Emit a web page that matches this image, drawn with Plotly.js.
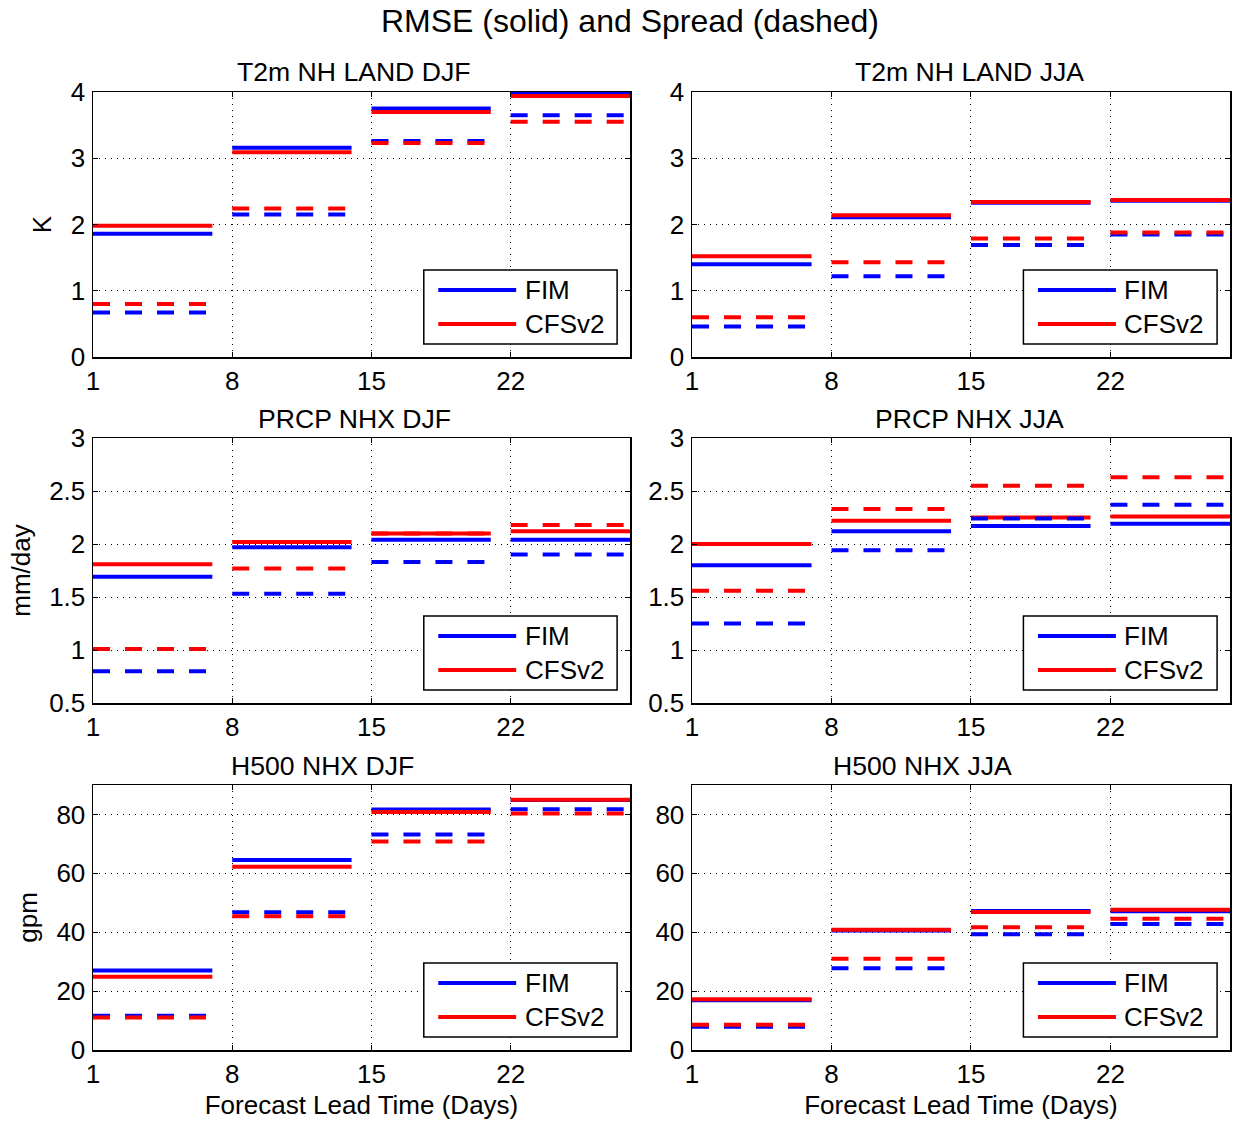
<!DOCTYPE html>
<html>
<head>
<meta charset="utf-8">
<script src="https://cdn.plot.ly/plotly-3.0.1.min.js"></script>
<style>html,body{margin:0;padding:0;background:#fff;}#chart{width:1238px;height:1124px;}</style>
</head>
<body>
<div id="chart"></div>
<script>
// ---- data ----
const weekStart = [1, 8, 15, 22];
const weekEnd = [7, 14, 21, 28];
const xTicks = [1, 8, 15, 22];
const modelNames = ["FIM", "CFSv2"];

const panelTitles = ["T2m NH LAND DJF", "T2m NH LAND JJA", "PRCP NHX DJF", "PRCP NHX JJA", "H500 NHX DJF", "H500 NHX JJA"];
const yLabels = ["K", "", "mm/day", "", "gpm", ""];
const xLabels = ["", "", "", "", "Forecast Lead Time (Days)", "Forecast Lead Time (Days)"];

// T2m NH LAND DJF
const t2mDjfFimRmse = [1.86, 3.16, 3.75, 3.99];
const t2mDjfCfsRmse = [1.98, 3.09, 3.70, 3.94];
const t2mDjfFimSpread = [0.67, 2.15, 3.26, 3.65];
const t2mDjfCfsSpread = [0.80, 2.24, 3.23, 3.55];
// T2m NH LAND JJA
const t2mJjaFimRmse = [1.40, 2.11, 2.33, 2.36];
const t2mJjaCfsRmse = [1.52, 2.14, 2.34, 2.37];
const t2mJjaFimSpread = [0.46, 1.22, 1.69, 1.85];
const t2mJjaCfsSpread = [0.60, 1.43, 1.79, 1.88];
// PRCP NHX DJF
const prcpDjfFimRmse = [1.69, 1.97, 2.04, 2.04];
const prcpDjfCfsRmse = [1.81, 2.02, 2.10, 2.12];
const prcpDjfFimSpread = [0.80, 1.53, 1.83, 1.90];
const prcpDjfCfsSpread = [1.01, 1.77, 2.10, 2.18];
// PRCP NHX JJA
const prcpJjaFimRmse = [1.80, 2.12, 2.17, 2.19];
const prcpJjaCfsRmse = [2.00, 2.22, 2.25, 2.26];
const prcpJjaFimSpread = [1.25, 1.94, 2.24, 2.37];
const prcpJjaCfsSpread = [1.56, 2.33, 2.55, 2.63];
// H500 NHX DJF
const h500DjfFimRmse = [27.0, 64.5, 81.7, 84.9];
const h500DjfCfsRmse = [24.9, 62.2, 80.8, 85.0];
const h500DjfFimSpread = [11.6, 46.8, 73.2, 81.8];
const h500DjfCfsSpread = [11.0, 45.4, 70.8, 80.3];
// H500 NHX JJA
const h500JjaFimRmse = [16.9, 40.6, 47.2, 47.1];
const h500JjaCfsRmse = [17.2, 40.8, 46.9, 47.6];
const h500JjaFimSpread = [7.9, 27.8, 39.3, 42.8];
const h500JjaCfsSpread = [8.6, 31.0, 41.7, 44.6];

const yRanges = [[0, 4], [0, 4], [0.5, 3], [0.5, 3], [0, 90], [0, 90]];
const yTickStep = [1, 1, 0.5, 0.5, 20, 20];

const panels = [
  [t2mDjfFimRmse, t2mDjfCfsRmse, t2mDjfFimSpread, t2mDjfCfsSpread],
  [t2mJjaFimRmse, t2mJjaCfsRmse, t2mJjaFimSpread, t2mJjaCfsSpread],
  [prcpDjfFimRmse, prcpDjfCfsRmse, prcpDjfFimSpread, prcpDjfCfsSpread],
  [prcpJjaFimRmse, prcpJjaCfsRmse, prcpJjaFimSpread, prcpJjaCfsSpread],
  [h500DjfFimRmse, h500DjfCfsRmse, h500DjfFimSpread, h500DjfCfsSpread],
  [h500JjaFimRmse, h500JjaCfsRmse, h500JjaFimSpread, h500JjaCfsSpread]
];

// ---- styling / layout ----
const BLUE = "#0000ff", RED = "#ff0000";
const FONT = "Liberation Sans, Arial, Helvetica, sans-serif";
const seriesStyle = [
  {color: BLUE, dash: "solid", name: "FIM"},
  {color: RED, dash: "solid", name: "CFSv2"},
  {color: BLUE, dash: "17px,15px", name: "FIM spread"},
  {color: RED, dash: "17px,15px", name: "CFSv2 spread"}
];

function segments(vals) {
  const x = [], y = [];
  vals.forEach((v, i) => {
    x.push(weekStart[i], weekEnd[i], null);
    y.push(v, v, null);
  });
  return {x, y};
}

const W = 1238, H = 1124;
const colX = [[93, 630], [692, 1230]];
const rowY = [[92, 357], [438, 703], [785, 1050]];
const titlePos = [[353, 72], [969, 72], [354, 419], [969, 419], [322, 766], [922, 766]];

const traces = [];
const layout = {
  width: W, height: H,
  margin: {l: 0, r: 0, t: 0, b: 0},
  paper_bgcolor: "#fff", plot_bgcolor: "#fff",
  font: {family: FONT, size: 26, color: "#000"},
  showlegend: false,
  title: {text: "RMSE (solid) and Spread (dashed)", font: {family: FONT, size: 32, color: "#000"},
          x: 630 / W, xanchor: "center", xref: "paper", y: 1 - 21 / H, yanchor: "middle", yref: "container"},
  annotations: [], shapes: []
};

panels.forEach((series, p) => {
  const idx = p + 1;
  const xa = "x" + (idx === 1 ? "" : idx), ya = "y" + (idx === 1 ? "" : idx);
  const col = p % 2, row = Math.floor(p / 2);
  series.forEach((vals, s) => {
    const seg = segments(vals);
    traces.push({
      type: "scatter", mode: "lines", x: seg.x, y: seg.y, xaxis: xa, yaxis: ya,
      name: seriesStyle[s].name, connectgaps: false, hoverinfo: "skip",
      line: {color: seriesStyle[s].color, width: 4, dash: seriesStyle[s].dash}
    });
  });
  const axCommon = {
    ticks: "inside", ticklen: 5, tickwidth: 1, tickcolor: "#000",
    mirror: "allticks", showline: true, linecolor: "#000", linewidth: 1.5,
    showgrid: true, gridcolor: "#000", gridwidth: 1, griddash: "1px,5px",
    zeroline: false, tickfont: {family: FONT, size: 26, color: "#000"},
    fixedrange: true
  };
  layout["xaxis" + (idx === 1 ? "" : idx)] = Object.assign({}, axCommon, {
    domain: [colX[col][0] / W, colX[col][1] / W], anchor: ya,
    range: [1, 28], tickmode: "array", tickvals: xTicks, ticktext: xTicks.map(String),
    ticklabelstandoff: 0,
    title: {text: xLabels[p], font: {family: FONT, size: 26, color: "#000"}, standoff: 8}
  });
  layout["yaxis" + (idx === 1 ? "" : idx)] = Object.assign({}, axCommon, {
    domain: [1 - rowY[row][1] / H, 1 - rowY[row][0] / H], anchor: xa,
    range: yRanges[p], tickmode: "linear", tick0: yRanges[p][0], dtick: yTickStep[p],
    ticklabelstandoff: 1,
    title: {text: yLabels[p], font: {family: FONT, size: 26, color: "#000"}, standoff: 11}
  });
  // panel title
  layout.annotations.push({
    text: panelTitles[p], xref: "paper", yref: "paper", x: titlePos[p][0] / W, y: 1 - titlePos[p][1] / H,
    xanchor: "center", yanchor: "middle", showarrow: false, font: {family: FONT, size: 26.6, color: "#000"}
  });
  // legend box
  const xd = xa + " domain", yd = ya + " domain";
  layout.shapes.push({type: "rect", xref: xd, yref: yd, x0: 0.616, x1: 0.976, y0: 0.049, y1: 0.328,
    line: {color: "#000", width: 1.5}, fillcolor: "#fff", layer: "above"});
  const legY = [0.253, 0.125];
  const legC = [BLUE, RED];
  modelNames.forEach((nm, k) => {
    layout.shapes.push({type: "line", xref: xd, yref: yd, x0: 0.643, x1: 0.788, y0: legY[k], y1: legY[k],
      line: {color: legC[k], width: 4}, layer: "above"});
    layout.annotations.push({text: nm, xref: xd, yref: yd, x: 0.800, y: legY[k], xanchor: "left", yanchor: "middle",
      showarrow: false, font: {family: FONT, size: 26, color: "#000"}});
  });
});

Plotly.newPlot("chart", traces, layout, {staticPlot: true, displayModeBar: false});
</script>
</body>
</html>
